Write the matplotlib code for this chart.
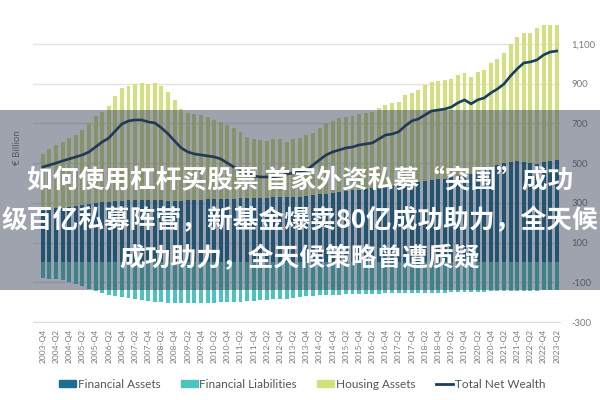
import matplotlib
matplotlib.use("Agg")
import matplotlib.pyplot as plt
from matplotlib.patches import Rectangle
from matplotlib.lines import Line2D
from matplotlib.patches import Patch
import numpy as np

quarters = [f"{y}-Q{q}" for y in range(2003, 2024) for q in (1, 2, 3, 4)]
quarters = quarters[quarters.index("2003-Q4"):quarters.index("2023-Q2") + 1]

financial_assets = [265, 268, 272, 276, 280, 285, 290, 295, 300, 303, 306,
                    308, 310, 312, 314, 315, 314, 313, 312, 310, 308,
                    310, 312, 314, 316, 318, 319, 320, 320, 321, 322,
                    323, 324, 325, 326, 327, 328, 329, 330, 331, 334,
                    338, 342, 346, 350, 354, 358, 362, 366, 370, 373,
                    376, 380, 384, 388, 393, 398, 403, 408, 413, 418,
                    422, 428, 434, 440, 445, 455, 465, 478, 490, 500,
                    505, 508, 505, 500, 495, 505, 510, 516]
financial_liabilities = [80, 82, 85, 90, 100, 110, 120, 132, 145,
                         155, 162, 170, 175, 180,
                         185, 190, 195, 198, 200, 203, 205,
                         206, 206, 205, 204, 203, 202,
                         200, 199, 198, 197, 195, 193, 191,
                         189, 186, 184, 182, 180, 175, 170,
                         168, 166, 164, 163, 162, 161, 160, 159, 158, 157,
                         157, 156, 156, 155, 155, 155, 154, 154, 153, 152,
                         152, 151, 150, 150, 149, 148, 147, 146, 145, 145,
                         144, 144, 143, 142, 142, 141, 140, 140]
gross_assets = [546, 571, 591, 606, 626, 641, 667, 702, 737, 757, 788,
                838, 878, 888, 898, 903, 898, 903, 888, 858, 818,
                772, 752, 747, 742, 732, 717, 707, 692, 677, 657,
                631, 621, 616, 611, 621, 621, 606, 621, 626, 641,
                652, 677, 702, 712, 727, 732, 737, 747, 752, 757,
                777, 793, 803, 808, 843, 853, 868, 893, 908, 913,
                918, 923, 944, 954, 934, 959, 969, 1004, 1024, 1054,
                1100, 1135, 1155, 1155, 1180, 1195, 1195, 1195]
housing_assets = [g - f for g, f in zip(gross_assets, financial_assets)]
total_net_wealth = [480, 490, 500, 511, 521, 531, 541, 556, 581, 606, 626,
                    662, 697, 712, 717, 717, 707, 702, 677, 647, 611,
                    576, 556, 546, 541, 536, 531, 521, 500, 480, 465,
                    450, 435, 430, 430, 430, 435, 445, 450, 455, 465,
                    490, 516, 541, 556, 566, 576, 581, 591, 596, 601,
                    621, 641, 646, 657, 687, 712, 722, 742, 762, 767,
                    772, 782, 803, 818, 798, 818, 828, 853, 873, 898,
                    939, 974, 1004, 1009, 1019, 1044, 1059, 1064]

y_ticks = [-300, -100, 100, 300, 500, 700, 900, 1100]

c_fa = "#1c6f90"
c_fl = "#4cc3bf"
c_ha = "#d2e07f"
c_nw = "#183f5e"
grey = "#7a7a7a"

fig = plt.figure(figsize=(6, 4), dpi=100)
ax = fig.add_axes([33 / 600, 1 - 322 / 400, (560 - 33) / 600, 300 / 400])

x = np.arange(len(quarters))
w = 0.6
ax.bar(x, financial_assets, width=w, color=c_fa, zorder=2)
ax.bar(x, housing_assets, width=w, bottom=financial_assets, color=c_ha, zorder=2)
ax.bar(x, [-v for v in financial_liabilities], width=w, color=c_fl, zorder=2)
ax.plot(x, total_net_wealth, color=c_nw, lw=1.9, zorder=3)

ax.set_xlim(-1.5, len(quarters) - 0.5)
ax.set_ylim(-300, 1210)
ax.set_yticks(y_ticks)
ax.set_yticklabels([f"{v:,}" for v in y_ticks], fontsize=6.8, color=grey, family=["Lato", "DejaVu Sans"])
ax.yaxis.tick_right()
ax.tick_params(axis="y", length=0, pad=8)
ax.set_xticks(x[::2])
ax.set_xticklabels(quarters[::2], rotation=90, fontsize=6, color=grey, family=["Lato", "DejaVu Sans"])
ax.tick_params(axis="x", length=0, pad=5)
ax.grid(axis="y", color="#e3e3e3", lw=1, zorder=0)
for s in ("top", "right", "left"):
    ax.spines[s].set_visible(False)
ax.spines["bottom"].set_color("#dddddd")
ax.spines["bottom"].set_zorder(1)

fig.text(17 / 600, 1 - 148 / 400, "€ Billion", rotation=90, ha="center", va="center",
         fontsize=7, color=grey, family=["Lato", "DejaVu Sans"])

handles = [Patch(color=c_fa), Patch(color=c_fl), Patch(color=c_ha),
           Line2D([], [], color=c_nw, lw=2)]
labels = ["Financial Assets", "Financial Liabilities", "Housing Assets", "Total Net Wealth"]
leg = fig.legend(handles, labels, loc="center", bbox_to_anchor=(302 / 600, 1 - 384 / 400),
                 ncol=4, frameon=False, handlelength=1.45, handleheight=0.55,
                 handletextpad=0.15, columnspacing=1.7, prop={"family": ["Lato", "DejaVu Sans"], "size": 8.5})
for t in leg.get_texts():
    t.set_color("#555555")

# overlay band with headline text
band = Rectangle((0, 1 - 290 / 400), 1, 180 / 400, transform=fig.transFigure,
                 facecolor=(0.17, 0.2, 0.3), alpha=0.45, edgecolor="none", zorder=10)
fig.add_artist(band)
lines = ["如何使用杠杆买股票 首家外资私募“突围”成功",
         "级百亿私募阵营，新基金爆卖80亿成功助力，全天候",
         "成功助力，全天候策略曾遭质疑"]
ys = [181, 221, 259]
for t, yy in zip(lines, ys):
    fig.text(0.5, 1 - yy / 400, t, ha="center", va="center", color="white",
             fontsize=18.5, fontweight="heavy", family=["Noto Sans CJK SC", "DejaVu Sans"], zorder=11)

fig.savefig("out.png", dpi=100)
